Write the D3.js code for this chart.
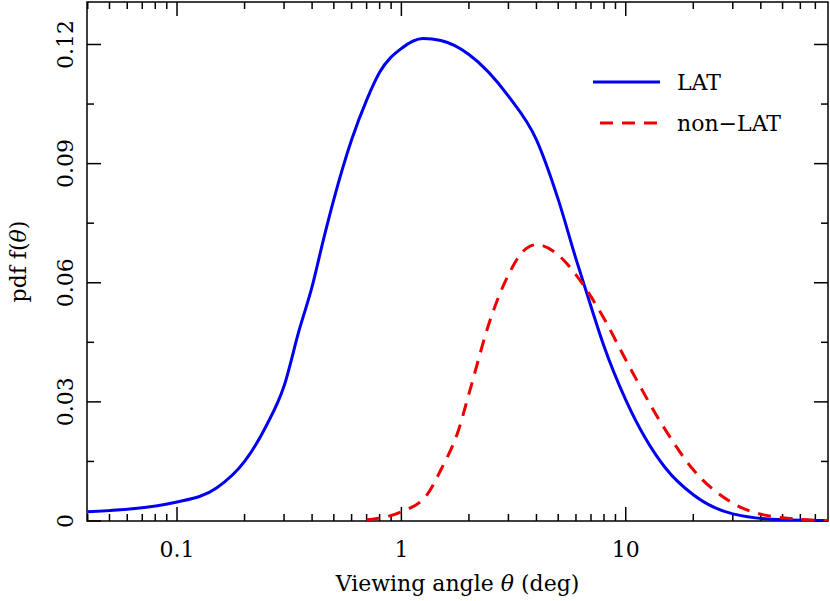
<!DOCTYPE html>
<html><head><meta charset="utf-8">
<script src="https://cdn.jsdelivr.net/npm/d3@7"></script>
<style>body{margin:0;background:#fff}text{font-family:"DejaVu Serif","Liberation Serif",serif}</style>
</head><body><div id="chart"></div>
<script>
// values
const latTheta = [0.04,0.1,0.15,0.2,0.25,0.3,0.35,0.4,0.45,0.5,0.6,0.7,0.8,1.0,1.25,1.5,2,3,4,5,6,7,8,10,15,20,30,50,80];
const latPdf   = [0.0023,0.0048,0.0083,0.015,0.024,0.034,0.048,0.059,0.071,0.081,0.096,0.106,0.113,0.119,0.1215,0.121,0.1175,0.107,0.096,0.081,0.066,0.054,0.044,0.0305,0.0134,0.0066,0.0018,0.0003,0.0001];
const nonTheta = [0.7,1,1.3,1.5,1.8,2,2.5,3,3.5,4,5,6,8,10,15,20,30,50,80];
const nonPdf   = [0.0003,0.0023,0.0066,0.0129,0.023,0.032,0.051,0.062,0.068,0.0696,0.067,0.062,0.051,0.0406,0.023,0.0129,0.0045,0.0008,0.0001];
const xTicks = [0.1,1,10];
const yTicks = [0,0.03,0.06,0.09,0.12];

const W = 830, H = 601;
const m = {left:87, right:2, top:2, bottom:80};
const svg = d3.select('#chart').append('svg').attr('width',W).attr('height',H);

const x = d3.scaleLog().domain([0.0397,79.7]).range([m.left, W-m.right]);
const y = d3.scaleLinear().domain([0,0.1307]).range([H-m.bottom, m.top]);

// minor ticks on log axis
const minor = [];
[0.01,0.1,1,10].forEach(d => { for (let k=2;k<10;k++){ const v=d*k; if(v>x.domain()[0] && v<x.domain()[1]) minor.push(v);} });
const yMinor = d3.range(0,0.1307,0.015);

const g = svg.append('g').attr('stroke','#000').attr('stroke-width',1.5);
const bot = H-m.bottom, tp = m.top, L = m.left, R = W-m.right;
g.append('rect').attr('x',L).attr('y',tp).attr('width',R-L).attr('height',bot-tp).attr('fill','none');
xTicks.forEach(v => { g.append('line').attr('x1',x(v)).attr('x2',x(v)).attr('y1',bot).attr('y2',bot-14);
  g.append('line').attr('x1',x(v)).attr('x2',x(v)).attr('y1',tp).attr('y2',tp+14); });
minor.forEach(v => { g.append('line').attr('x1',x(v)).attr('x2',x(v)).attr('y1',bot).attr('y2',bot-7);
  g.append('line').attr('x1',x(v)).attr('x2',x(v)).attr('y1',tp).attr('y2',tp+7); });
yMinor.forEach((v,i) => { const len = i%2===0 ? 14 : 7;
  g.append('line').attr('x1',L).attr('x2',L+len).attr('y1',y(v)).attr('y2',y(v));
  g.append('line').attr('x1',R).attr('x2',R-len).attr('y1',y(v)).attr('y2',y(v)); });

svg.selectAll('.xl').data(xTicks).enter().append('text')
  .attr('x',d=>x(d)).attr('y',bot+36).attr('text-anchor','middle').attr('font-size',22).text(d=>d3.format('~g')(d));
svg.selectAll('.yl').data(yTicks).enter().append('text')
  .attr('transform',d=>`translate(${L-14},${y(d)}) rotate(-90)`).attr('text-anchor','middle')
  .attr('font-size',22).text(d=>d===0?'0':d3.format('.2f')(d));
svg.append('text').attr('x',(L+R)/2).attr('y',bot+70).attr('text-anchor','middle').attr('font-size',22)
  .html('Viewing angle <tspan font-style="italic">θ</tspan> (deg)');
svg.append('text').attr('transform',`translate(26,${(tp+bot)/2}) rotate(-90)`).attr('text-anchor','middle').attr('font-size',22)
  .html('pdf f(<tspan font-style="italic">θ</tspan>)');

const line = d3.line().x(d=>x(d[0])).y(d=>y(d[1])).curve(d3.curveMonotoneX);
svg.append('clipPath').attr('id','c').append('rect').attr('x',L).attr('y',tp).attr('width',R-L).attr('height',bot-tp);
svg.append('path').attr('clip-path','url(#c)').datum(d3.zip(latTheta,latPdf)).attr('d',line)
  .attr('fill','none').attr('stroke','#0000ee').attr('stroke-width',3);
svg.append('path').attr('clip-path','url(#c)').datum(d3.zip(nonTheta,nonPdf)).attr('d',line)
  .attr('fill','none').attr('stroke','#ee0000').attr('stroke-width',3).attr('stroke-dasharray','13,9');

// legend
svg.append('line').attr('x1',593).attr('x2',660).attr('y1',82).attr('y2',82).attr('stroke','#0000ee').attr('stroke-width',3);
svg.append('line').attr('x1',600).attr('x2',664).attr('y1',123).attr('y2',123).attr('stroke','#ee0000').attr('stroke-width',3).attr('stroke-dasharray','13,9');
svg.append('text').attr('x',677).attr('y',90).attr('font-size',22).text('LAT');
svg.append('text').attr('x',677).attr('y',131).attr('font-size',22).text('non−LAT');
</script></body></html>
